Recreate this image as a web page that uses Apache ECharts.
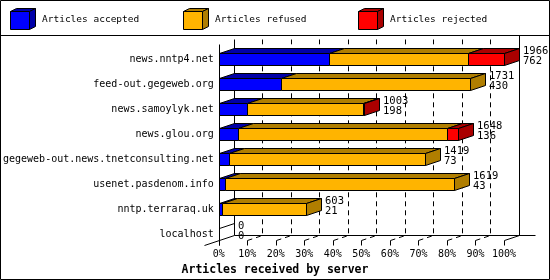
<!DOCTYPE html>
<html><head><meta charset="utf-8">
<script src="https://cdn.jsdelivr.net/npm/echarts@6/dist/echarts.min.js"></script>
<style>html,body{margin:0;padding:0;background:#fff}#c{width:550px;height:280px}</style>
</head><body><div id="c"></div>
<script>
const categories = ['news.nntp4.net','feed-out.gegeweb.org','news.samoylyk.net','news.glou.org','gegeweb-out.news.tnetconsulting.net','usenet.pasdenom.info','nntp.terraraq.uk','localhost'];
const accepted = [762, 430, 198, 136, 73, 43, 21, 0];
const refused  = [953, 1301, 795, 1435, 1346, 1576, 582, 0];
const rejected = [251, 0, 10, 77, 0, 0, 0, 0];
const offered  = [1966, 1731, 1003, 1648, 1419, 1619, 603, 0];
const seriesNames = ['Articles accepted', 'Articles refused', 'Articles rejected'];
const xTickValues = [0, 10, 20, 30, 40, 50, 60, 70, 80, 90, 100];
const xTitle = 'Articles received by server';

const colors = ['#0000ff', '#ffb400', '#ff0000'];
const shades = ['#0000a8', '#b07e00', '#aa0000'];
const FONT = 'DejaVu Sans Mono';
const DX = 15, DY = 5, HALF = 6;
const maxTotal = Math.max(...offered);
const P = v => Math.round(v) + 0.5;

const barData = categories.map((c, i) => [i, accepted[i], refused[i], rejected[i], offered[i]]);

function renderBar(params, api) {
  const i = api.value(0);
  const segs = [api.value(1), api.value(2), api.value(3)];
  const total = api.value(4);
  const c0 = api.coord([0, i]);
  const cy = Math.round(c0[1]);
  const top = cy - HALF + 0.5, bot = cy + HALF + 0.5;
  let lastIdx = -1;
  segs.forEach((v, k) => { if (v > 0) lastIdx = k; });
  const children = [];
  let cum = 0;
  let endX = P(c0[0]);
  segs.forEach((v, k) => {
    const x0 = P(api.coord([cum / maxTotal * 100, i])[0]);
    cum += v;
    const x1 = P(api.coord([cum / maxTotal * 100, i])[0]);
    if (v <= 0) return;
    children.push({type: 'polygon', shape: {points: [[x0, top], [x0 + DX, top - DY], [x1 + DX, top - DY], [x1, top]]},
      style: {fill: shades[k], stroke: '#000', lineWidth: 1}});
    children.push({type: 'rect', shape: {x: x0, y: top, width: x1 - x0, height: bot - top},
      style: {fill: colors[k], stroke: '#000', lineWidth: 1}});
    endX = x1;
  });
  if (lastIdx >= 0) {
    children.push({type: 'polygon', shape: {points: [[endX, top], [endX + DX, top - DY], [endX + DX, bot - DY], [endX, bot]]},
      style: {fill: shades[lastIdx], stroke: '#000', lineWidth: 1}});
  } else {
    children.push({type: 'line', shape: {x1: endX, y1: top, x2: endX + DX, y2: top - DY},
      style: {stroke: '#000', lineWidth: 1}});
  }
  const lx = Math.round(endX + DX + 3);
  children.push({type: 'text', style: {text: String(total), x: lx, y: cy - 8, fill: '#000',
    font: '10.5px "' + FONT + '"', align: 'left', verticalAlign: 'middle'}});
  children.push({type: 'text', style: {text: String(api.value(1)), x: lx, y: cy + 2.5, fill: '#000',
    font: '10.5px "' + FONT + '"', align: 'left', verticalAlign: 'middle'}});
  return {type: 'group', children};
}

function renderFrame(params, api) {
  const first = api.coord([0, 0]);
  const last = api.coord([100, categories.length - 1]);
  const x0 = P(first[0]), x100 = P(last[0]);
  const frontTop = Math.round(first[1]) - 15 + 0.5;
  const backTop = frontTop - DY;
  const floorFront = Math.round(last[1]) + HALF + 0.5;
  const floorBack = floorFront - DY;
  const ch = [];
  const ln = (a, b, c, d, dash) => ch.push({type: 'line', shape: {x1: a, y1: b, x2: c, y2: d},
    style: {stroke: '#000', lineWidth: 1, lineDash: dash || null}});
  xTickValues.forEach(v => {
    const x = P(api.coord([v, 0])[0]);
    if (v > 0 && v < 100) {
      ch.push({type: 'polyline', shape: {points: [[x, floorFront], [x + DX, floorBack], [x + DX, backTop]]},
        style: {stroke: '#000', lineWidth: 1, lineDash: [5, 4], fill: null}});
    }
    ln(x, floorFront, x, floorFront + 5);
  });
  ln(x0 + DX, backTop, x0 + DX, floorBack);
  ln(x100 + DX, 35.5, x100 + DX, floorBack);
  ln(x0, frontTop, x0, floorFront + 5);
  ln(x0 + DX, floorBack, x100 + DX + 16, floorBack);
  ln(x0 - 15, floorFront + 5, x0 + DX, floorBack);
  ln(x100, floorFront, x100 + DX, floorBack);
  return {type: 'group', children: ch};
}

const legendEls = [];
const legendX = [10, 183, 358];
seriesNames.forEach((n, k) => {
  const bx = legendX[k] + 0.5, by = 11.5, w = 19, h = 18, dx = 6, dy = 3;
  legendEls.push({type: 'polygon', shape: {points: [[bx, by], [bx + dx, by - dy], [bx + w + dx, by - dy], [bx + w, by]]},
    style: {fill: shades[k], stroke: '#000', lineWidth: 1}});
  legendEls.push({type: 'polygon', shape: {points: [[bx + w, by], [bx + w + dx, by - dy], [bx + w + dx, by + h - dy], [bx + w, by + h]]},
    style: {fill: shades[k], stroke: '#000', lineWidth: 1}});
  legendEls.push({type: 'rect', shape: {x: bx, y: by, width: w, height: h},
    style: {fill: colors[k], stroke: '#000', lineWidth: 1}});
  legendEls.push({type: 'text', x: legendX[k] + 32, y: 20,
    style: {text: n, fill: '#000', font: '9.5px "' + FONT + '"', verticalAlign: 'middle', align: 'left'}});
});
legendEls.push({type: 'line', shape: {x1: 0, y1: 35.5, x2: 550, y2: 35.5}, style: {stroke: '#000', lineWidth: 1}});
legendEls.push({type: 'rect', shape: {x: 0.5, y: 0.5, width: 549, height: 279}, style: {fill: null, stroke: '#000', lineWidth: 1}});

const chart = echarts.init(document.getElementById('c'), null, {renderer: 'canvas'});
chart.setOption({
  animation: false,
  backgroundColor: '#fff',
  title: {text: xTitle, left: 'center', top: 259,
    textStyle: {fontFamily: FONT, fontSize: 11.5, fontWeight: 'bold', color: '#000'}},
  grid: {left: 218, width: 286, top: 46.5, height: 200},
  xAxis: {type: 'value', min: 0, max: 100, interval: 10,
    axisLine: {show: false}, axisTick: {show: false}, splitLine: {show: false},
    axisLabel: {formatter: '{value}%', margin: 2, color: '#000', fontFamily: FONT, fontSize: 10, lineHeight: 12}},
  yAxis: {type: 'category', data: categories, inverse: true,
    axisLine: {show: false}, axisTick: {show: false}, splitLine: {show: false},
    axisLabel: {margin: 5, color: '#000', fontFamily: FONT, fontSize: 10}},
  graphic: legendEls,
  series: [
    {type: 'custom', name: 'frame', coordinateSystem: 'cartesian2d', data: [[0, 0]], clip: false, z: 1,
      renderItem: renderFrame, silent: true},
    {type: 'custom', name: 'bars', coordinateSystem: 'cartesian2d', data: barData, clip: false, z: 2,
      encode: {x: [1, 2, 3], y: 0}, renderItem: renderBar, silent: true}
  ]
});
</script></body></html>
